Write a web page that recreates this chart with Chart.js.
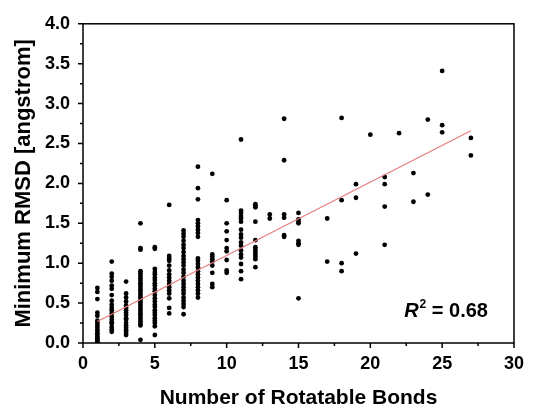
<!DOCTYPE html>
<html lang="en">
<head>
  <meta charset="UTF-8">
  <title>Minimum RMSD vs Rotatable Bonds</title>
  <style>
    * { box-sizing: border-box; }
    body { margin: 0; background: #fff; }
    .chart-container { position: relative; width: 534px; height: 409px; }
  </style>
  <script src="https://cdn.jsdelivr.net/npm/chart.js@4.4.1/dist/chart.umd.min.js"></script>
</head>
<body>
  <div class="chart-container">
    <canvas id="rmsdChart" width="534" height="409"></canvas>
  </div>

  <script>
    // --- Data ---
    const bonds = [1, 2, 3, 4, 5, 6, 7, 8, 9, 10, 11, 12, 13, 14, 15, 17, 18, 19, 20, 21, 22, 23, 24, 25, 27];

    // RMSD values per rotatable-bond count (same order as bonds)
    const rmsdByBond = [
      [0.69, 0.64, 0.55, 0.38, 0.34, 0.28, 0.25, 0.22, 0.19, 0.16, 0.13, 0.11, 0.08, 0.06, 0.04, 0.02, 0.01],
      [1.02, 0.87, 0.83, 0.78, 0.72, 0.68, 0.60, 0.53, 0.48, 0.44, 0.41, 0.37, 0.33, 0.29, 0.26, 0.24, 0.20, 0.17, 0.14],
      [0.77, 0.62, 0.57, 0.52, 0.47, 0.44, 0.41, 0.38, 0.35, 0.31, 0.29, 0.25, 0.22, 0.19, 0.16, 0.13, 0.10],
      [1.50, 1.19, 1.17, 0.90, 0.87, 0.84, 0.81, 0.78, 0.75, 0.72, 0.69, 0.66, 0.63, 0.60, 0.57, 0.54, 0.51, 0.48, 0.45, 0.42, 0.39, 0.36, 0.33, 0.30, 0.27, 0.24, 0.22, 0.04],
      [1.20, 1.18, 0.93, 0.89, 0.86, 0.82, 0.79, 0.75, 0.72, 0.68, 0.65, 0.60, 0.56, 0.52, 0.48, 0.45, 0.41, 0.38, 0.35, 0.31, 0.28, 0.25, 0.21, 0.10],
      [1.73, 1.09, 1.06, 1.03, 0.97, 0.91, 0.86, 0.82, 0.78, 0.74, 0.70, 0.66, 0.62, 0.56, 0.44, 0.37],
      [1.41, 1.37, 1.33, 1.28, 1.23, 1.19, 1.14, 1.09, 1.05, 1.01, 0.97, 0.92, 0.88, 0.83, 0.78, 0.74, 0.70, 0.66, 0.62, 0.57, 0.53, 0.49, 0.45, 0.36],
      [2.21, 1.94, 1.80, 1.54, 1.50, 1.46, 1.42, 1.38, 1.33, 1.06, 1.03, 0.99, 0.95, 0.90, 0.86, 0.82, 0.78, 0.74, 0.70, 0.66, 0.62, 0.57],
      [2.12, 1.11, 1.08, 1.05, 1.02, 0.97, 0.88, 0.74, 0.70],
      [1.79, 1.50, 1.40, 1.29, 1.19, 1.15, 1.04, 0.91, 0.88],
      [2.55, 1.66, 1.63, 1.59, 1.56, 1.52, 1.42, 1.36, 1.32, 1.26, 1.22, 1.16, 1.11, 1.07, 0.99, 0.90, 0.80],
      [1.74, 1.72, 1.70, 1.52, 1.29, 1.20, 1.17, 1.14, 1.11, 1.08, 1.05, 0.95],
      [1.61, 1.56],
      [2.81, 2.29, 1.61, 1.57, 1.35, 1.33],
      [1.63, 1.55, 1.52, 1.50, 1.28, 1.25, 1.23, 0.56],
      [1.56, 1.02],
      [2.82, 1.79, 1.00, 0.90],
      [1.99, 1.82, 1.12],
      [2.61],
      [2.08, 1.99, 1.71, 1.23],
      [2.63],
      [2.13, 1.77],
      [2.80, 1.86],
      [3.41, 2.73, 2.64],
      [2.57, 2.35]
    ];

    // fitted line end points
    const fitX = [1, 27];
    const fitY = [0.27, 2.66];

    const xTicks = [0, 5, 10, 15, 20, 25, 30];
    const yTicks = [0.0, 0.5, 1.0, 1.5, 2.0, 2.5, 3.0, 3.5, 4.0];
    const rSquared = '0.68';

    // --- Build datasets ---
    const points = [];
    bonds.forEach((b, i) => rmsdByBond[i].forEach(v => points.push({ x: b, y: v })));
    const fitLine = fitX.map((x, i) => ({ x: x, y: fitY[i] }));

    const FONT = "'Liberation Sans', Arial, sans-serif";

    // frame, outward ticks and R^2 label
    const framePlugin = {
      id: 'frame',
      afterDraw(chart) {
        const { ctx, chartArea: a, scales: { x, y } } = chart;
        ctx.save();
        ctx.strokeStyle = '#000';
        ctx.lineWidth = 1.5;
        ctx.strokeRect(a.left, a.top, a.right - a.left, a.bottom - a.top);

        ctx.beginPath();
        for (let v = xTicks[0]; v <= xTicks[xTicks.length - 1] + 1e-9; v += 2.5) {
          const px = x.getPixelForValue(v);
          const len = Math.abs(v % 5) < 1e-6 ? 5 : 3;
          ctx.moveTo(px, a.bottom);
          ctx.lineTo(px, a.bottom + len);
        }
        for (let v = yTicks[0]; v <= yTicks[yTicks.length - 1] + 1e-9; v += 0.25) {
          const py = y.getPixelForValue(v);
          const len = Math.abs((v * 2) % 1) < 1e-6 ? 5 : 3;
          ctx.moveTo(a.left, py);
          ctx.lineTo(a.left - len, py);
        }
        ctx.stroke();

        // R^2 = 0.68
        const big = 20, small = 12;
        ctx.fillStyle = '#000';
        ctx.textBaseline = 'alphabetic';
        ctx.font = `italic bold ${big}px ${FONT}`;
        const wR = ctx.measureText('R').width;
        ctx.font = `bold ${small}px ${FONT}`;
        const w2 = ctx.measureText('2').width;
        ctx.font = `bold ${big}px ${FONT}`;
        const rest = ' = ' + rSquared;
        const wRest = ctx.measureText(rest).width;
        const right = a.right - 26;
        const base = a.bottom - 26;
        let tx = right - (wR + w2 + 1 + wRest);
        ctx.font = `italic bold ${big}px ${FONT}`;
        ctx.fillText('R', tx, base);
        tx += wR + 1;
        ctx.font = `bold ${small}px ${FONT}`;
        ctx.fillText('2', tx, base - 9);
        tx += w2;
        ctx.font = `bold ${big}px ${FONT}`;
        ctx.fillText(rest, tx, base);
        ctx.restore();
      }
    };

    new Chart(document.getElementById('rmsdChart'), {
      type: 'scatter',
      data: {
        datasets: [
          {
            label: 'fit',
            type: 'line',
            data: fitLine,
            borderColor: '#e87c7c',
            borderWidth: 1.2,
            pointRadius: 0,
            fill: false,
            order: 0
          },
          {
            label: 'RMSD',
            data: points,
            pointRadius: 2.4,
            pointBackgroundColor: '#000',
            pointBorderWidth: 0,
            order: 1
          }
        ]
      },
      options: {
        responsive: false,
        animation: false,
        layout: { padding: { top: 20, right: 11.5, left: 0, bottom: 0 } },
        plugins: { legend: { display: false }, tooltip: { enabled: false } },
        scales: {
          x: {
            type: 'linear',
            min: xTicks[0],
            max: xTicks[xTicks.length - 1],
            afterBuildTicks: s => { s.ticks = xTicks.map(v => ({ value: v })); },
            afterFit: s => { s.height = 66; },
            grid: { display: false, drawTicks: false },
            border: { display: false },
            ticks: {
              padding: 10,
              color: '#000',
              font: { family: FONT, size: 18, weight: 'bold' },
              maxRotation: 0
            },
            title: {
              display: true,
              text: 'Number of Rotatable Bonds',
              color: '#000',
              font: { family: FONT, size: 21, weight: 'bold', lineHeight: 1.0 },
              padding: { top: 0, bottom: 0 }
            }
          },
          y: {
            type: 'linear',
            min: yTicks[0],
            max: yTicks[yTicks.length - 1],
            afterBuildTicks: s => { s.ticks = yTicks.map(v => ({ value: v })); },
            afterFit: s => { s.width = 83; },
            grid: { display: false, drawTicks: false },
            border: { display: false },
            ticks: {
              padding: 13,
              color: '#000',
              font: { family: FONT, size: 18, weight: 'bold' },
              callback: v => Number(v).toFixed(1)
            },
            title: {
              display: true,
              text: 'Minimum RMSD [angstrom]',
              color: '#000',
              font: { family: FONT, size: 22, weight: 'bold', lineHeight: 1.0 },
              padding: { top: 13, bottom: 0 }
            }
          }
        }
      },
      plugins: [framePlugin]
    });
  </script>
</body>
</html>
